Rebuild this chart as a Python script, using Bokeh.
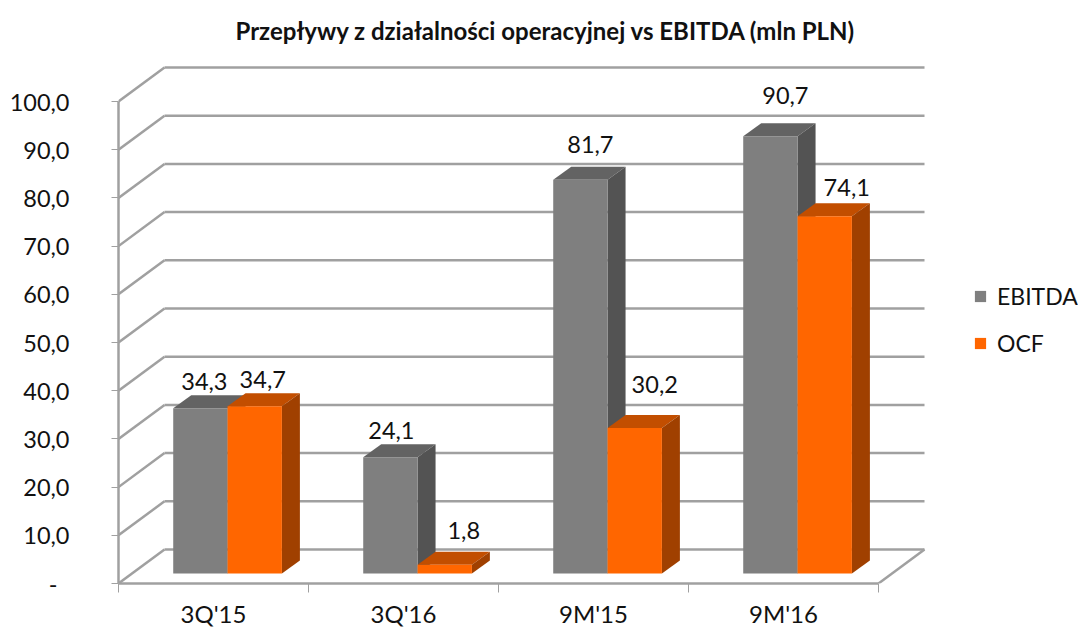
from bokeh.plotting import figure
from bokeh.models import ColumnDataSource, FixedTicker, Legend, LegendItem, LinearAxis, Range1d, Title
from bokeh.core.properties import value
from bokeh.embed import file_html
from bokeh.resources import INLINE

# ---- data ----
categories = ["3Q'15", "3Q'16", "9M'15", "9M'16"]
ebitda = [34.3, 24.1, 81.7, 90.7]
ocf = [34.7, 1.8, 30.2, 74.1]
y_ticks = [0, 10, 20, 30, 40, 50, 60, 70, 80, 90, 100]
y_labels = ["-\u00a0\u00a0", "10,0", "20,0", "30,0", "40,0", "50,0", "60,0", "70,0", "80,0", "90,0", "100,0"]
title_text = "Przepływy z działalności operacyjnej vs EBITDA (mln PLN)"

# ---- 3D projection, in axis units (1 category on x, value units on y) ----
WALL_DX, WALL_DY = 46 / 190, 34 / 4.82
BAR_DX, BAR_DY = 18 / 190, 13 / 4.82
BAR_BASE = 10 / 4.82
GROUP_PAD, BAR_W = 0.288, 0.286
LABEL_SHIFT_E = [4, 1, 10, 15]
LABEL_SHIFT_O = [8, 19, 20, 22]
LABEL_RISE_E = [-27, -27, -35, -41]
LABEL_RISE_O = [-27, -34, -43, -29]
LINE = "#A0A0A0"
FONT = "Lato"
TXT = "#111111"

p = figure(width=1078, height=630, output_backend="svg", toolbar_location=None,
           x_range=Range1d(0, 960 / 190), y_range=Range1d(0, (583 - 55) / 4.82),
           x_axis_type=None, y_axis_type=None,
           min_border_left=118, min_border_right=0, min_border_top=55, min_border_bottom=47,
           outline_line_color=None, border_fill_color="white")
p.grid.visible = False

title = Title(text=title_text, text_font=FONT, text_font_size="24px", text_font_style="bold",
              text_color=TXT, align="left", offset=117, standoff=18, vertical_align="top")
p.add_layout(title, "above")

# walls and floor
back_x1 = len(categories) + WALL_DX
p.segment(x0=[0] * len(y_ticks), y0=y_ticks, x1=[WALL_DX] * len(y_ticks),
          y1=[v + WALL_DY for v in y_ticks], line_color=LINE, line_width=2.5)
p.segment(x0=[WALL_DX] * len(y_ticks), y0=[v + WALL_DY for v in y_ticks],
          x1=[back_x1] * len(y_ticks), y1=[v + WALL_DY for v in y_ticks],
          line_color=LINE, line_width=2.5)
p.segment(x0=[len(categories)], y0=[0], x1=[back_x1], y1=[WALL_DY], line_color=LINE, line_width=2.5)

# axes
yax = LinearAxis(ticker=FixedTicker(ticks=y_ticks), bounds=(0, 100),
                 major_label_overrides=dict(zip(y_ticks, y_labels)),
                 major_label_text_font=FONT, major_label_text_font_size="23.5px",
                 major_label_text_color=TXT, major_label_standoff=42,
                 axis_line_color=LINE, axis_line_width=2.5,
                 major_tick_line_color=LINE, major_tick_line_width=1,
                 major_tick_in=0, major_tick_out=7, minor_tick_line_color=None)
p.add_layout(yax, "left")

centers = [i + 0.5 for i in range(len(categories))]
xax = LinearAxis(ticker=FixedTicker(ticks=centers, minor_ticks=list(range(len(categories) + 1))),
                 bounds=(0, len(categories)),
                 major_label_overrides=dict(zip(centers, categories)),
                 major_label_text_font=FONT, major_label_text_font_size="24px",
                 major_label_text_color=TXT, major_label_standoff=6,
                 axis_line_color=LINE, axis_line_width=2.5,
                 major_tick_line_color=None, major_tick_in=0, major_tick_out=0,
                 minor_tick_line_color=LINE, minor_tick_line_width=1,
                 minor_tick_in=0, minor_tick_out=9)
p.add_layout(xax, "below")


def series(values, slot, front, top, side, shifts, rises):
    left = [i + GROUP_PAD + slot * BAR_W for i in range(len(values))]
    right = [x + BAR_W for x in left]
    tops = [BAR_BASE + v for v in values]
    p.patches(xs=[[l, l + BAR_DX, r + BAR_DX, r] for l, r in zip(left, right)],
              ys=[[t, t + BAR_DY, t + BAR_DY, t] for t in tops],
              fill_color=top, line_color=None)
    p.patches(xs=[[r, r + BAR_DX, r + BAR_DX, r] for r in right],
              ys=[[BAR_BASE, BAR_BASE + BAR_DY, t + BAR_DY, t] for t in tops],
              fill_color=side, line_color=None)
    r_front = p.quad(left=left, right=right, bottom=[BAR_BASE] * len(values), top=tops,
                     fill_color=front, line_color=None)
    src = ColumnDataSource(dict(
        x=[(l + r) / 2 for l, r in zip(left, right)], y=tops,
        t=[f"{v:.1f}".replace(".", ",") for v in values], dx=shifts, dy=rises))
    p.text(x="x", y="y", text="t", x_offset="dx", y_offset="dy", source=src,
           text_font=value(FONT), text_font_size="23.5px", text_color=TXT,
           text_align="center", text_baseline="middle")
    return r_front


r_e = series(ebitda, 0, "#7F7F7F", "#636363", "#535353", LABEL_SHIFT_E, LABEL_RISE_E)
r_o = series(ocf, 1, "#FF6600", "#C24E00", "#A04000", LABEL_SHIFT_O, LABEL_RISE_O)

legend = Legend(items=[LegendItem(label="EBITDA", renderers=[r_e]),
                       LegendItem(label="OCF", renderers=[r_o])],
                location=(973 - 118, 583 - 357), orientation="vertical",
                background_fill_alpha=0, border_line_color=None, margin=0, padding=0,
                glyph_width=14, glyph_height=14, label_standoff=10, spacing=19,
                label_text_font=FONT, label_text_font_size="23px", label_text_color=TXT)
p.add_layout(legend, "center")

open("out.html", "w").write(file_html(p, INLINE))
